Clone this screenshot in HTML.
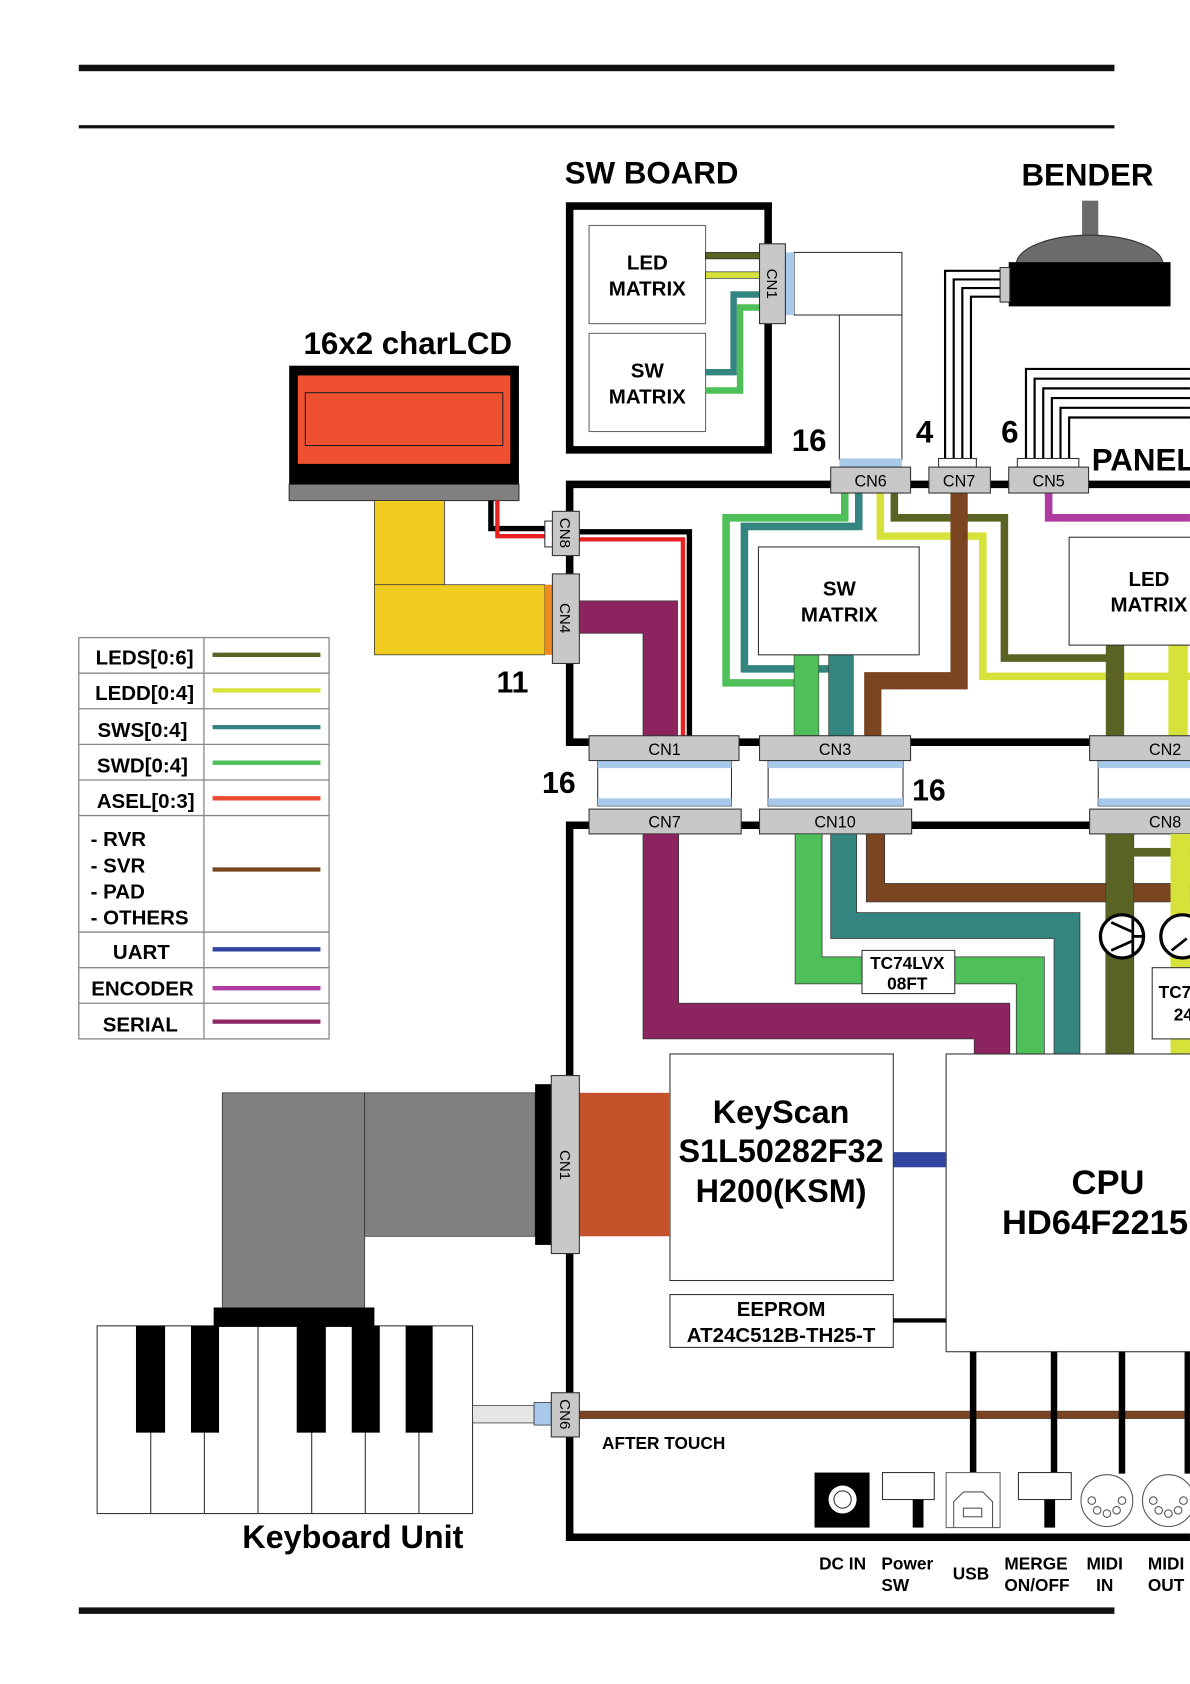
<!DOCTYPE html>
<html><head><meta charset="utf-8"><style>html,body{margin:0;padding:0;background:#fff}svg{display:block}text{font-family:"Liberation Sans",sans-serif;font-weight:bold;fill:#000}</style></head>
<body>
<svg width="1190" height="1684" viewBox="0 0 1103 1561" xmlns="http://www.w3.org/2000/svg">
<!-- page rules -->
<rect x="73" y="60" width="960" height="6" fill="#111"/>
<rect x="73" y="116" width="960" height="3" fill="#111"/>
<rect x="73" y="1490" width="960" height="6" fill="#111"/>

<text x="604" y="170" font-size="29" text-anchor="middle">SW BOARD</text>
<text x="1008" y="172" font-size="29" text-anchor="middle">BENDER</text>
<text x="378" y="328" font-size="29" text-anchor="middle">16x2 charLCD</text>

<!-- SW board -->
<rect x="528" y="191" width="184" height="226" fill="none" stroke="#000" stroke-width="7"/>
<rect x="546" y="209" width="108" height="91" fill="#fff" stroke="#666" stroke-width="1"/>
<rect x="546" y="309" width="108" height="91" fill="#fff" stroke="#666" stroke-width="1"/>
<text x="600" y="250" font-size="19" text-anchor="middle">LED</text>
<text x="600" y="274" font-size="19" text-anchor="middle">MATRIX</text>
<text x="600" y="350" font-size="19" text-anchor="middle">SW</text>
<text x="600" y="374" font-size="19" text-anchor="middle">MATRIX</text>
<rect x="654" y="234" width="50" height="6" fill="#5a6324" stroke="#000" stroke-width="0.5"/>
<rect x="654" y="252" width="50" height="6" fill="#d6e23a" stroke="#000" stroke-width="0.5"/>
<path d="M704 273 H680 V345 H654" fill="none" stroke="#348580" stroke-width="6"/>
<path d="M704 285 H686 V362 H654" fill="none" stroke="#4fbf5a" stroke-width="6"/>
<rect x="736" y="234" width="100" height="58" fill="#fff" stroke="#333" stroke-width="1"/>
<rect x="778" y="292" width="58" height="134" fill="#fff" stroke="#333" stroke-width="1"/>
<rect x="728" y="234" width="8" height="58" fill="#a9c9ea"/>
<rect x="778" y="425" width="58" height="8" fill="#a9c9ea"/>
<rect x="704" y="226" width="24" height="74" fill="#c8c8c8" stroke="#333" stroke-width="1"/>
<text x="716" y="263" font-size="14" font-weight="normal" text-anchor="middle" transform="rotate(90 716 263)" dy="5" style="font-weight:normal">CN1</text>

<!-- bender -->
<rect x="1003" y="186" width="15" height="32" fill="#6b6b6b"/>
<path d="M942 245 A68 27 0 0 1 1078 245 Z" fill="#6b6b6b" stroke="#333"/>
<rect x="935" y="243" width="150" height="41" fill="#000"/>
<rect x="927" y="248" width="9" height="32" fill="#c8c8c8" stroke="#333"/>
<g fill="none" stroke="#000" stroke-width="2">
<path d="M927 251 H876 V425"/><path d="M927 259 H884 V425"/><path d="M927 267 H892 V425"/><path d="M927 275 H900 V425"/>
<path d="M1103 342 H951 V425"/><path d="M1103 351 H959 V425"/><path d="M1103 360 H967 V425"/><path d="M1103 369 H975 V425"/><path d="M1103 378 H983 V425"/><path d="M1103 387 H991 V425"/>
</g>
<rect x="870" y="425" width="35" height="8" fill="#fff" stroke="#333"/>
<rect x="943" y="425" width="57" height="8" fill="#fff" stroke="#333"/>
<text x="750" y="418" font-size="29" text-anchor="middle">16</text>
<text x="857" y="410" font-size="29" text-anchor="middle">4</text>
<text x="936" y="410" font-size="29" text-anchor="middle">6</text>
<text x="1012" y="436" font-size="29">PANEL</text>

<!-- main board outline -->
<path d="M1103 449 H528 V688 H1103" fill="none" stroke="#000" stroke-width="7"/>
<path d="M1103 765 H528 V1425 H1103" fill="none" stroke="#000" stroke-width="7"/>

<!-- LCD -->
<rect x="268" y="339" width="213" height="110" fill="#000"/>
<rect x="276" y="348" width="197" height="82" fill="#ef5030"/>
<rect x="283" y="364" width="183" height="49" fill="none" stroke="#222" stroke-width="1"/>
<rect x="268" y="449" width="213" height="15" fill="#808080" stroke="#333"/>
<rect x="347" y="464" width="65" height="80" fill="#f0cc20" stroke="#333" stroke-width="0.7"/>
<rect x="347" y="542" width="158" height="65" fill="#f0cc20" stroke="#333" stroke-width="0.7"/>
<rect x="505" y="542" width="7" height="65" fill="#f08a20"/>
<path d="M455 464 V490 H512" fill="none" stroke="#000" stroke-width="5"/>
<path d="M461 464 V497 H512" fill="none" stroke="#e82020" stroke-width="4"/>
<path d="M537 493 H639 V688" fill="none" stroke="#000" stroke-width="5"/>
<path d="M537 500 H633 V688" fill="none" stroke="#e82020" stroke-width="4"/>
<rect x="505" y="483" width="8" height="24" fill="#fff" stroke="#333"/>
<rect x="512" y="474" width="25" height="41" fill="#c8c8c8" stroke="#333"/>
<text x="524" y="494" font-size="14" text-anchor="middle" transform="rotate(90 524 494)" dy="5" style="font-weight:normal">CN8</text>
<rect x="512" y="532" width="25" height="83" fill="#c8c8c8" stroke="#333"/>
<text x="524" y="573" font-size="14" text-anchor="middle" transform="rotate(90 524 573)" dy="5" style="font-weight:normal">CN4</text>
<path d="M537 557 H628 V587 H628 V688 H596 V587 H537 Z" fill="#8c2460" stroke="#333" stroke-width="0.7"/>
<text x="475" y="642" font-size="28" text-anchor="middle">11</text>

<!-- wires CN6 -> CN3 -->
<path d="M783 457 V480 H673 V633 H745" fill="none" stroke="#4fbf5a" stroke-width="7"/>
<path d="M796 457 V488 H690 V620 H780" fill="none" stroke="#348580" stroke-width="7"/>
<rect x="736" y="607" width="23" height="75" fill="#4fbf5a" stroke="#333" stroke-width="0.5"/>
<rect x="768" y="607" width="23" height="75" fill="#348580" stroke="#333" stroke-width="0.5"/>
<path d="M816 457 V497 H911 V627 H1103" fill="none" stroke="#d6e23a" stroke-width="7"/>
<path d="M829 457 V480 H931 V610 H1035" fill="none" stroke="#5a6324" stroke-width="7"/>
<path d="M889 457 V631 H809 V682" fill="none" stroke="#7a4520" stroke-width="16"/>
<path d="M972 457 V480 H1103" fill="none" stroke="#b03aa0" stroke-width="7"/>
<rect x="1025" y="598" width="17" height="84" fill="#5a6324"/>
<rect x="1083" y="598" width="18" height="84" fill="#d6e23a"/>
<rect x="703" y="507" width="149" height="100" fill="#fff" stroke="#333"/>
<text x="778" y="552" font-size="19" text-anchor="middle">SW</text>
<text x="778" y="576" font-size="19" text-anchor="middle">MATRIX</text>
<rect x="991" y="498" width="120" height="100" fill="#fff" stroke="#333"/>
<text x="1065" y="543" font-size="19" text-anchor="middle">LED</text>
<text x="1065" y="567" font-size="19" text-anchor="middle">MATRIX</text>

<!-- top connectors -->
<g fill="#c8c8c8" stroke="#333">
<rect x="770" y="433" width="74" height="24"/><rect x="861" y="433" width="57" height="24"/><rect x="935" y="433" width="74" height="24"/>
</g>
<g font-size="15" text-anchor="middle" style="font-weight:normal">
<text x="807" y="451" style="font-weight:normal">CN6</text><text x="889" y="451" style="font-weight:normal">CN7</text><text x="972" y="451" style="font-weight:normal">CN5</text>
</g>

<!-- board-to-board connectors -->
<g fill="#fff" stroke="#333">
<rect x="554" y="705" width="124" height="42"/><rect x="712" y="705" width="125" height="42"/><rect x="1018" y="705" width="90" height="42"/>
</g>
<g fill="#a9c9ea">
<rect x="554" y="705" width="124" height="7"/><rect x="554" y="740" width="124" height="7"/>
<rect x="712" y="705" width="125" height="7"/><rect x="712" y="740" width="125" height="7"/>
<rect x="1018" y="705" width="90" height="7"/><rect x="1018" y="740" width="90" height="7"/>
</g>
<g fill="#c8c8c8" stroke="#333">
<rect x="546" y="682" width="139" height="23"/><rect x="704" y="682" width="140" height="23"/><rect x="1010" y="682" width="100" height="23"/>
<rect x="546" y="750" width="141" height="23"/><rect x="704" y="750" width="141" height="23"/><rect x="1010" y="750" width="100" height="23"/>
</g>
<g font-size="15" text-anchor="middle">
<text x="616" y="700" style="font-weight:normal">CN1</text><text x="774" y="700" style="font-weight:normal">CN3</text><text x="1080" y="700" style="font-weight:normal">CN2</text>
<text x="616" y="767" style="font-weight:normal">CN7</text><text x="774" y="767" style="font-weight:normal">CN10</text><text x="1080" y="767" style="font-weight:normal">CN8</text>
</g>
<text x="518" y="735" font-size="28" text-anchor="middle">16</text>
<text x="861" y="742" font-size="28" text-anchor="middle">16</text>

<!-- lower wires -->
<path d="M596 773 H629 V930 H936 V977 H903 V963 H596 Z" fill="#8c2460" stroke="#333" stroke-width="0.7"/>
<path d="M737 773 H762 V887 H968 V977 H942 V912 H737 Z" fill="#4fbf5a" stroke="#333" stroke-width="0.7"/>
<path d="M770 773 H794 V846 H1001 V977 H977 V870 H770 Z" fill="#348580" stroke="#333" stroke-width="0.7"/>
<path d="M803 773 H820 V819 H1103 V836 H803 Z" fill="#7a4520" stroke="#333" stroke-width="0.7"/>
<rect x="1025" y="773" width="26" height="204" fill="#5a6324" stroke="#333" stroke-width="0.5"/>
<rect x="1043" y="786" width="60" height="8" fill="#5a6324"/>
<rect x="1085" y="773" width="18" height="204" fill="#d6e23a"/>
<rect x="799" y="881" width="86" height="40" fill="#fff" stroke="#333"/>
<text x="841" y="898" font-size="16" text-anchor="middle">TC74LVX</text>
<text x="841" y="917" font-size="16" text-anchor="middle">08FT</text>
<circle cx="1040" cy="868" r="20" fill="#fff" stroke="#000" stroke-width="3"/>
<path d="M1050 852 V884 M1050 868 H1060 M1030 855 L1050 864 M1030 881 L1050 872" stroke="#000" stroke-width="2.5" fill="none"/>
<circle cx="1096" cy="868" r="20" fill="#fff" stroke="#000" stroke-width="3"/>
<path d="M1086 881 L1100 870" stroke="#000" stroke-width="2.5"/>
<rect x="1068" y="897" width="40" height="66" fill="#fff" stroke="#333"/>
<text x="1074" y="925" font-size="16">TC7</text><text x="1088" y="946" font-size="16">24</text>

<!-- chips -->
<rect x="621" y="977" width="207" height="210" fill="#fff" stroke="#333"/>
<text x="724" y="1041" font-size="30" text-anchor="middle">KeyScan</text>
<text x="724" y="1077" font-size="30" text-anchor="middle">S1L50282F32</text>
<text x="724" y="1114" font-size="30" text-anchor="middle">H200(KSM)</text>
<rect x="621" y="1200" width="207" height="49" fill="#fff" stroke="#333"/>
<text x="724" y="1220" font-size="19" text-anchor="middle">EEPROM</text>
<text x="724" y="1244" font-size="19" text-anchor="middle">AT24C512B-TH25-T</text>
<rect x="877" y="977" width="240" height="276" fill="#fff" stroke="#333"/>
<text x="1027" y="1107" font-size="32" text-anchor="middle">CPU</text>
<text x="1015" y="1144" font-size="32" text-anchor="middle">HD64F2215</text>
<rect x="828" y="1068" width="49" height="14" fill="#2f45a0"/>
<rect x="828" y="1222" width="49" height="4" fill="#000"/>

<!-- keyboard cable -->
<rect x="206" y="1013" width="132" height="200" fill="#808080" stroke="#333" stroke-width="0.7"/>
<rect x="338" y="1013" width="158" height="133" fill="#808080" stroke="#333" stroke-width="0.7"/>
<rect x="496" y="1005" width="15" height="149" fill="#000"/>
<rect x="537" y="1013" width="84" height="133" fill="#c4532c"/>
<rect x="511" y="997" width="26" height="165" fill="#c8c8c8" stroke="#333"/>
<text x="524" y="1080" font-size="14" text-anchor="middle" transform="rotate(90 524 1080)" dy="5" style="font-weight:normal">CN1</text>

<!-- keyboard -->
<rect x="90" y="1229" width="348" height="174" fill="#fff" stroke="#333"/>
<g stroke="#333" stroke-width="1">
<line x1="139.7" y1="1229" x2="139.7" y2="1403"/><line x1="189.4" y1="1229" x2="189.4" y2="1403"/><line x1="239.1" y1="1229" x2="239.1" y2="1403"/><line x1="288.9" y1="1229" x2="288.9" y2="1403"/><line x1="338.6" y1="1229" x2="338.6" y2="1403"/><line x1="388.3" y1="1229" x2="388.3" y2="1403"/>
</g>
<rect x="198" y="1212" width="149" height="18" fill="#000"/>
<g fill="#000">
<rect x="126" y="1229" width="27" height="99"/><rect x="177" y="1229" width="26" height="99"/><rect x="275" y="1229" width="27" height="99"/><rect x="326" y="1229" width="26" height="99"/><rect x="376" y="1229" width="25" height="99"/>
</g>
<text x="327" y="1435" font-size="30" text-anchor="middle">Keyboard Unit</text>
<rect x="438" y="1303" width="57" height="16" fill="#e6e6e6" stroke="#333" stroke-width="0.7"/>
<rect x="495" y="1300" width="16" height="21" fill="#a9c9ea" stroke="#333" stroke-width="0.7"/>
<rect x="537" y="1308" width="566" height="7" fill="#7a4520" stroke="#333" stroke-width="0.5"/>
<rect x="511" y="1291" width="26" height="41" fill="#c8c8c8" stroke="#333"/>
<text x="524" y="1311" font-size="14" text-anchor="middle" transform="rotate(90 524 1311)" dy="5" style="font-weight:normal">CN6</text>
<text x="558" y="1343" font-size="16">AFTER TOUCH</text>

<!-- IO -->
<g fill="#000">
<rect x="899" y="1253" width="6" height="113"/><rect x="974" y="1253" width="6" height="113"/><rect x="1037" y="1253" width="6" height="113"/><rect x="1098" y="1253" width="5" height="113"/>
</g>
<rect x="755" y="1365" width="51" height="51" fill="#000"/>
<circle cx="781" cy="1390" r="13" fill="#fff"/><circle cx="781" cy="1390" r="8" fill="none" stroke="#333"/>
<rect x="818" y="1365" width="48" height="25" fill="#fff" stroke="#333"/>
<rect x="846" y="1390" width="10" height="26" fill="#000"/>
<rect x="877" y="1365" width="50" height="51" fill="#fff" stroke="#666"/>
<path d="M884 1416 V1392 L893 1383 H911 L920 1392 V1416" fill="none" stroke="#555"/>
<rect x="893" y="1398" width="17" height="8" fill="none" stroke="#555"/>
<rect x="944" y="1365" width="49" height="25" fill="#fff" stroke="#333"/>
<rect x="968" y="1390" width="10" height="26" fill="#000"/>
<circle cx="1026" cy="1391" r="24" fill="#fff" stroke="#555"/>
<circle cx="1083" cy="1391" r="24" fill="#fff" stroke="#555"/>
<g fill="none" stroke="#555">
<circle cx="1012" cy="1391" r="3.5"/><circle cx="1017" cy="1400" r="3.5"/><circle cx="1026" cy="1403" r="3.5"/><circle cx="1035" cy="1400" r="3.5"/><circle cx="1040" cy="1391" r="3.5"/>
<circle cx="1069" cy="1391" r="3.5"/><circle cx="1074" cy="1400" r="3.5"/><circle cx="1083" cy="1403" r="3.5"/><circle cx="1092" cy="1400" r="3.5"/><circle cx="1097" cy="1391" r="3.5"/>
</g>
<g font-size="16">
<text x="781" y="1455" text-anchor="middle">DC IN</text>
<text x="817" y="1455">Power</text><text x="817" y="1475">SW</text>
<text x="900" y="1464" text-anchor="middle">USB</text>
<text x="931" y="1455">MERGE</text><text x="931" y="1475">ON/OFF</text>
<text x="1024" y="1455" text-anchor="middle">MIDI</text><text x="1024" y="1475" text-anchor="middle">IN</text>
<text x="1064" y="1455">MIDI</text><text x="1064" y="1475">OUT</text>
</g>

<!-- legend -->
<g fill="none" stroke="#888" stroke-width="1.2">
<rect x="73" y="591" width="232" height="372"/>
<line x1="189" y1="591" x2="189" y2="963"/>
<line x1="73" y1="624" x2="305" y2="624"/><line x1="73" y1="657" x2="305" y2="657"/><line x1="73" y1="690" x2="305" y2="690"/><line x1="73" y1="723" x2="305" y2="723"/><line x1="73" y1="756" x2="305" y2="756"/><line x1="73" y1="864" x2="305" y2="864"/><line x1="73" y1="897" x2="305" y2="897"/><line x1="73" y1="930" x2="305" y2="930"/>
</g>
<g stroke-width="4">
<line x1="197" y1="607" x2="297" y2="607" stroke="#5a6324"/>
<line x1="197" y1="640" x2="297" y2="640" stroke="#d6e23a"/>
<line x1="197" y1="674" x2="297" y2="674" stroke="#348580"/>
<line x1="197" y1="707" x2="297" y2="707" stroke="#4fbf5a"/>
<line x1="197" y1="740" x2="297" y2="740" stroke="#ea4a30"/>
<line x1="197" y1="806" x2="297" y2="806" stroke="#7a4520"/>
<line x1="197" y1="880" x2="297" y2="880" stroke="#2f45a0"/>
<line x1="197" y1="916" x2="297" y2="916" stroke="#b03aa0"/>
<line x1="197" y1="947" x2="297" y2="947" stroke="#8c2460"/>
</g>
<g font-size="19">
<text x="134" y="616" text-anchor="middle">LEDS[0:6]</text>
<text x="134" y="649" text-anchor="middle">LEDD[0:4]</text>
<text x="132" y="683" text-anchor="middle">SWS[0:4]</text>
<text x="132" y="716" text-anchor="middle">SWD[0:4]</text>
<text x="135" y="749" text-anchor="middle">ASEL[0:3]</text>
<text x="84" y="784">- RVR</text><text x="84" y="809">- SVR</text><text x="84" y="833">- PAD</text><text x="84" y="857">- OTHERS</text>
<text x="131" y="889" text-anchor="middle">UART</text>
<text x="132" y="923" text-anchor="middle">ENCODER</text>
<text x="130" y="956" text-anchor="middle">SERIAL</text>
</g>
</svg>
</body></html>
